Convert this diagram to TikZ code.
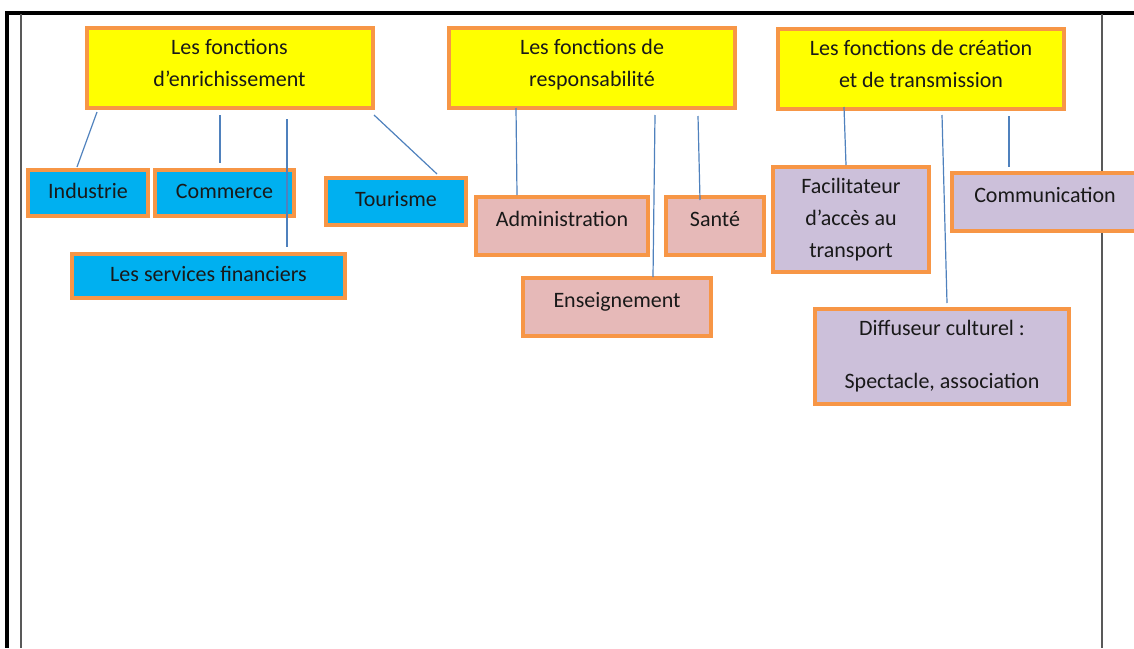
\documentclass[tikz,border=0pt]{standalone}
\usepackage{fontspec}
\setmainfont{Carlito}
\definecolor{boxorange}{HTML}{F79646}
\definecolor{headyellow}{HTML}{FFFF00}
\definecolor{cyanfill}{HTML}{00B0F0}
\definecolor{pinkfill}{HTML}{E6B9B8}
\definecolor{lilacfill}{HTML}{CCC0DA}
\definecolor{linkblue}{HTML}{4F81BD}
\definecolor{framegray}{HTML}{595959}
\begin{document}
\begin{tikzpicture}[x=0.5pt,y=-0.5pt,
  box/.style={draw=boxorange, line width=2pt, rectangle, inner sep=0pt,
    font=\fontsize{11}{16}\selectfont, align=center, text=black!90},
  head/.style={box, fill=headyellow, minimum width=143pt, minimum height=40pt, text depth=5pt},
  cyanbox/.style={box, fill=cyanfill, text height=7pt, text depth=2pt},
  pinkbox/.style={box, fill=pinkfill, minimum height=29pt, text height=8pt, text depth=8pt},
  lilacbox/.style={box, fill=lilacfill},
  link/.style={draw=linkblue, line width=0.6pt},
  frameline/.style={line width=2pt, black},
  thinframe/.style={line width=0.75pt, framegray}]
\useasboundingbox (0,0) rectangle (1134,648);
% frame
\draw[frameline] (5,13) -- (1134,13);
\draw[frameline] (7,12) -- (7,648);
\draw[thinframe] (21,14) -- (21,648);
\draw[thinframe] (1102,14) -- (1102,648);
% headers
\node[head] (h1) at (229.5,68) {Les fonctions\\d’enrichissement};
\node[head] (h2) at (592,68) {Les fonctions de\\responsabilité};
\node[head] (h3) at (921,69) {Les fonctions de création\\et de transmission};
% enrichissement
\node[cyanbox, minimum width=60pt, minimum height=23pt] (ind) at (88,193) {Industrie};
\node[cyanbox, minimum width=69.5pt, minimum height=23pt] (com) at (224.5,193) {Commerce};
\node[cyanbox, minimum width=70pt, minimum height=23.5pt] (tour) at (396,201.5) {Tourisme};
\node[cyanbox, minimum width=136.5pt, minimum height=22pt] (fin) at (208.5,276) {Les services financiers};
% responsabilite
\node[pinkbox, minimum width=86pt] (adm) at (562,226) {Administration};
\node[pinkbox, minimum width=49pt] (san) at (715,226) {Santé};
\node[pinkbox, minimum width=94pt] (ens) at (617,307) {Enseignement};
% creation
\node[lilacbox, minimum width=78pt, minimum height=52.5pt] (fac) at (851,219.5) {Facilitateur\\d’accès au\\transport};
\node[lilacbox, minimum width=93pt, minimum height=29pt, text height=8pt, text depth=8pt] (comm) at (1045,202) {Communication};
\node[lilacbox, minimum width=127pt, minimum height=47.5pt] (dif) at (942,356.5) {Diffuseur culturel :\\[10.5pt]Spectacle, association};
% connector end points
\coordinate (a1) at (97,112);   \coordinate (b1) at (77,167);
\coordinate (a2) at (220,115);  \coordinate (b2) at (220,163);
\coordinate (a3) at (287,119);  \coordinate (b3) at (287,247);
\coordinate (a4) at (374,115);  \coordinate (b4) at (437,174);
\coordinate (a5) at (516,108);  \coordinate (b5) at (517,195);
\coordinate (a6) at (655,115);  \coordinate (b6) at (653,277);
\coordinate (a7) at (698,116);  \coordinate (b7) at (700,200);
\coordinate (a8) at (844,107);  \coordinate (b8) at (846,165);
\coordinate (a9) at (942,115);  \coordinate (b9) at (947,303);
\coordinate (a10) at (1009,116); \coordinate (b10) at (1009,167);
\draw[link] (a1) -- (b1);
\draw[link] (a2) -- (b2);
\draw[link] (a3) -- (b3);
\draw[link] (a4) -- (b4);
\draw[link] (a5) -- (b5);
\draw[link] (a6) -- (b6);
\draw[link] (a7) -- (b7);
\draw[link] (a8) -- (b8);
\draw[link] (a9) -- (b9);
\draw[link] (a10) -- (b10);
\end{tikzpicture}
\end{document}
